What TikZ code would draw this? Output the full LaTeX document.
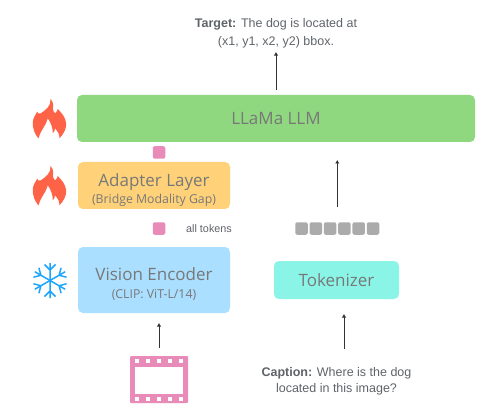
\documentclass[tikz,border=0pt]{standalone}
\usepackage{fontspec}
\setmainfont{Liberation Sans}
\newfontfamily\boxfont{Open Sans}
\usetikzlibrary{arrows.meta, positioning, calc}
\definecolor{llmgreen}{HTML}{8FD880}
\definecolor{adapterorange}{HTML}{FFD27A}
\definecolor{visionblue}{HTML}{AADFFF}
\definecolor{tokteal}{HTML}{8AF5E6}
\definecolor{tokenpink}{HTML}{E88BB9}
\definecolor{tokengray}{HTML}{ABABAB}
\definecolor{flamered}{HTML}{FF6347}
\definecolor{iceblue}{HTML}{1DA5FB}
\definecolor{labelgray}{HTML}{787878}
\definecolor{notegray}{HTML}{5F6368}

\begin{document}
\begin{tikzpicture}[
  x=1pt, y=-1pt,
  block/.style={rectangle, rounded corners=5pt, outer sep=0pt, inner sep=0pt, align=center, text=labelgray, font=\boxfont\fontsize{17}{19}\selectfont},
  token/.style={rectangle, rounded corners=2pt, outer sep=0pt, inner sep=0pt, minimum width=12.5pt, minimum height=12.5pt},
  note/.style={align=center, text=notegray, inner sep=0pt, font=\fontsize{12.5}{18}\selectfont},
  link/.style={-{Latex[length=3.5pt,width=4.5pt]}, line width=1pt, draw=black!80},
  flame/.pic={
    \fill[flamered] (-11,19.5) .. controls (-15,15) and (-17,9) .. (-16.7,3)
      .. controls (-16.5,-1) and (-14,-4) .. (-12.3,-7.3) .. controls (-12,-6) and (-11,-5) .. (-9,-5.5)
      .. controls (-4,-9) and (2,-13) .. (1,-20) .. controls (4,-17) and (4,-13) .. (3.3,-10.7)
      .. controls (3.5,-8) and (4.5,-6.5) .. (5.7,-5.7) .. controls (7,-7) and (8,-8.5) .. (8.3,-10)
      .. controls (12,-6) and (16,-2) .. (16.7,4.3) .. controls (17,10) and (14,15) .. (10,19.3)
      .. controls (10,15) and (8,12) .. (5.7,9.3) .. controls (5.5,11) and (4.5,13) .. (3.3,14.3)
      .. controls (3.5,9) and (1,3) .. (-1.7,-0.7) .. controls (-3,6) and (-9,11) .. (-11,19.5) -- cycle;
  },
  snowflake/.pic={
    \foreach \ang in {0,60,...,300} {
      \draw[iceblue, line width=1.5pt, rotate=\ang] (0,0) -- (0,-17.5)
        (-5.5,-16) -- (0,-10.5) -- (5.5,-16);
    }
  }
]
  \useasboundingbox (0,0) rectangle (501,417);

  \node[block, fill=llmgreen, minimum width=398pt, minimum height=47pt] (llm) at (276,118.5) {LLaMa LLM};
  \node[block, fill=adapterorange, minimum width=152pt, minimum height=47pt] (adapter) at (154,185.5) {\rule{0pt}{22pt}Adapter Layer\\[-2pt]{\fontsize{12.3}{14}\selectfont (Bridge Modality Gap)}};
  \node[block, fill=visionblue, minimum width=152pt, minimum height=66pt, below=38pt of adapter] (vision) {\rule{0pt}{20pt}Vision Encoder\\[-1pt]{\fontsize{12.3}{14}\selectfont (CLIP: ViT-L/14)}};
  \node[block, fill=tokteal, minimum width=125pt, minimum height=38pt] (tokenizer) at (336.5,280) {Tokenizer};

  \node[token, fill=tokenpink] (llmtoken) at (159,152.5) {};
  \node[token, fill=tokenpink] (alltoken) at (159,228.5) {};
  \node[note, font=\fontsize{10.8}{12}\selectfont, anchor=west] (alltokens) at (186,228.5) {all tokens};
  \foreach \i in {0,...,5} {
    \node[token, fill=tokengray] (cap\i) at (301.5+14.3*\i,228.5) {};
  }
  \coordinate (captokens) at ($(cap2.north)!0.5!(cap3.north)$);

  \node[note] (target) at (276,33) {\textbf{Target:} The dog is located at\\(x1, y1, x2, y2) bbox.};
  \node[note, font=\fontsize{12.5}{16}\selectfont] (caption) at (336.5,381) {\textbf{Caption:} Where is the dog\\located in this image?};

  % film strip
  \node[rectangle, fill=tokenpink, rounded corners=1pt, outer sep=0pt, inner sep=0pt, minimum width=58pt, minimum height=47pt] (film) at (159,379.5) {};
  \node[rectangle, fill=white, inner sep=0pt, minimum width=48pt, minimum height=27pt] (filmframe) at (159,380.5) {};
  \foreach \x in {137,148,159,170,181} {
    \fill[white] (\x-2.2,358.8) rectangle (\x+2.2,363.2);
    \fill[white] (\x-2.2,396.8) rectangle (\x+2.2,401.2);
  }

  \pic at (49.5,119) {flame};
  \pic at (49.5,186) {flame};
  \pic at (50,280.5) {snowflake};

  \draw[link, shorten <=5pt, shorten >=4pt] (llm.north) -- (target.south);
  \draw[link, shorten <=15pt, shorten >=18pt] (captokens) -- (captokens |- llm.south);
  \draw[link, shorten <=8pt, shorten >=10pt] (film.north) -- (film.north |- vision.south);
  \draw[link, shorten <=18pt, shorten >=15pt] ([xshift=7.5pt]caption.north) -- ([xshift=7.5pt]caption.north |- tokenizer.south);
\end{tikzpicture}
\end{document}
